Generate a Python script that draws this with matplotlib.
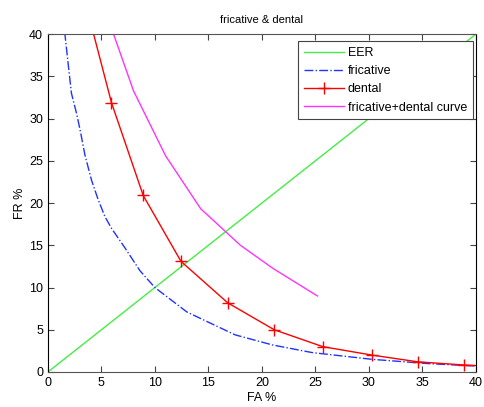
import numpy as np
import matplotlib.pyplot as plt

plt.rcParams['font.family'] = ['Liberation Sans', 'DejaVu Sans']

# values
eer_x = [0, 40]
eer_y = [0, 40]

fric_x = [1.4, 1.59, 1.9, 2.2, 2.7, 3.05, 3.46, 4.08, 4.7, 5.33, 5.95, 7.2, 8.6, 10.0,
          13.0, 17.5, 21.0, 24.7, 30.3, 35.5, 40.0]
fric_y = [42.0, 40.0, 36.4, 33.0, 30.5, 28.4, 25.7, 22.7, 20.4, 18.4, 17.0, 14.7, 12.0, 10.0,
          7.1, 4.4, 3.2, 2.3, 1.5, 1.0, 0.7]

dental_x = [3.0, 5.94, 8.91, 12.44, 16.8, 21.16, 25.7, 30.3, 34.6, 38.9, 43.0]
dental_y = [46.2, 31.9, 20.9, 13.1, 8.2, 5.0, 3.0, 2.0, 1.2, 0.83, 0.6]

curve_x = [6.0, 8.0, 11.0, 14.3, 15.0, 18.0, 21.0, 25.2]
curve_y = [40.5, 33.3, 25.6, 19.3, 18.5, 15.0, 12.3, 9.0]

fig = plt.figure(figsize=(4.84, 4.07), dpi=100)
ax = fig.add_axes([0.099, 0.086, 0.884, 0.830])

ax.plot(eer_x, eer_y, color='#44ee44', lw=1, label='EER')
ax.plot(fric_x, fric_y, color='#2233ff', lw=1, ls='-.', label='fricative')
ax.plot(dental_x, dental_y, color='red', lw=1, marker='+', ms=8.5, label='dental')
ax.plot(curve_x, curve_y, color='#ff33ff', lw=1, label='fricative+dental curve')

ax.set_xlim(0, 40)
ax.set_ylim(0, 40)
ax.set_xticks(np.arange(0, 41, 5))
ax.set_yticks(np.arange(0, 41, 5))
ax.tick_params(direction='in', top=True, right=True, labelsize=9, length=4,
               color='#444444')
for side in ['top', 'bottom']:
    ax.spines[side].set_color('#555555')
ax.set_xlabel('FA %', fontsize=9, labelpad=2)
ax.set_ylabel('FR %', fontsize=9, labelpad=2)
ax.set_title('fricative & dental', fontsize=8, pad=8)

leg = ax.legend(loc='upper right', bbox_to_anchor=(0.993, 0.979), borderaxespad=0,
                fontsize=9, fancybox=False, framealpha=1, edgecolor='#444444',
                handlelength=3.2, labelspacing=0.5, handletextpad=0.35,
                borderpad=0.45)
leg.get_frame().set_linewidth(0.8)

fig.savefig('out.png', dpi=100)
